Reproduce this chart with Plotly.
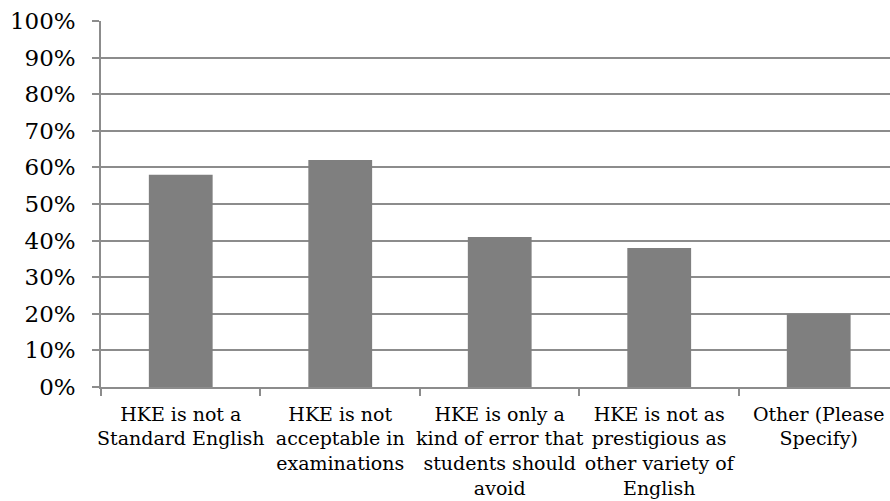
import plotly.graph_objects as go

categories = [
    "HKE is not a<br>Standard English",
    "HKE is not<br>acceptable in<br>examinations",
    "HKE is only a<br>kind of error that<br>students should<br>avoid",
    "HKE is not as<br>prestigious as<br>other variety of<br>English",
    "Other (Please<br>Specify)",
]
percentages = [58, 62, 41, 38, 20]
y_ticks = [0, 10, 20, 30, 40, 50, 60, 70, 80, 90, 100]
y_tick_labels = [f"{v}%" for v in y_ticks]

FONT = "DejaVu Serif"
GRID = "#8c8c8c"

fig = go.Figure(
    go.Bar(
        x=categories,
        y=percentages,
        marker=dict(color="#7f7f7f", line=dict(width=0)),
        width=0.4,
    )
)

fig.update_layout(
    width=890,
    height=501,
    margin=dict(l=101, r=0, t=21, b=114, autoexpand=False),
    paper_bgcolor="white",
    plot_bgcolor="white",
    showlegend=False,
    font=dict(family=FONT, color="black"),
)

fig.update_xaxes(
    type="category",
    range=[-0.5, 4.447],
    showgrid=False,
    showline=True,
    linecolor=GRID,
    linewidth=1.5,
    ticks="outside",
    tickson="boundaries",
    ticklen=7,
    tickwidth=1.5,
    tickcolor=GRID,
    tickfont=dict(family=FONT, size=19, color="black"),
    tickangle=0,
    ticklabelstandoff=9,
    automargin=False,
)

fig.update_yaxes(
    range=[0, 100],
    tickvals=y_ticks,
    ticktext=y_tick_labels,
    showgrid=True,
    gridcolor=GRID,
    gridwidth=1.5,
    zeroline=False,
    showline=True,
    linecolor=GRID,
    linewidth=1.5,
    ticks="outside",
    ticklen=7,
    tickwidth=1.5,
    tickcolor=GRID,
    tickfont=dict(family=FONT, size=23, color="black"),
    ticklabelstandoff=12,
    automargin=False,
)

fig.write_html("out.html")
